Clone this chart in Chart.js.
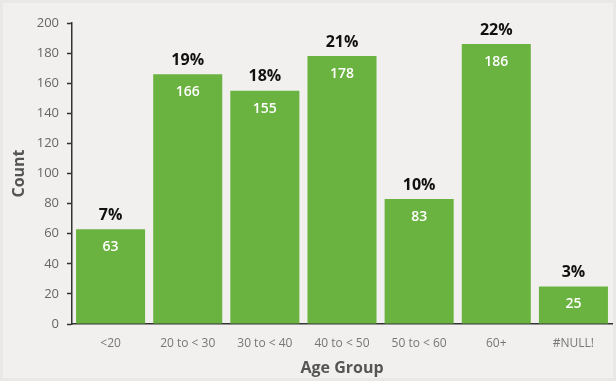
<!DOCTYPE html>
<html>
<head>
<meta charset="utf-8">
<script src="https://cdn.jsdelivr.net/npm/chart.js@4/dist/chart.umd.min.js"></script>
<style>
    html, body { margin: 0; padding: 0; background: #e9e8e6; }
    #wrap {
        position: absolute; left: 3px; top: 3px; width: 610px; height: 375px;
        background: #f1f0ee;
    }
    #box { position: absolute; left: -3px; top: -3px; width: 616px; height: 381px; }
</style>
</head>
<body>
<div id="wrap"><div id="box"><canvas id="ageChart" width="616" height="381"></canvas></div></div>
<script>
// Data
const ageGroups = ['<20', '20 to < 30', '30 to < 40', '40 to < 50', '50 to < 60', '60+', '#NULL!'];
const counts = [63, 166, 155, 178, 83, 186, 25];
const percentLabels = ['7%', '19%', '18%', '21%', '10%', '22%', '3%'];
const yTicks = [0, 20, 40, 60, 80, 100, 120, 140, 160, 180, 200];

const barGreen = '#6ab340';
const fontFamily = "'Open Sans', 'DejaVu Sans', sans-serif";

// Draws the count inside each bar and the share above it
const barLabels = {
    id: 'barLabels',
    afterDatasetsDraw(chart) {
        const ctx = chart.ctx;
        const meta = chart.getDatasetMeta(0);
        ctx.save();
        ctx.textAlign = 'center';
        ctx.textBaseline = 'middle';
        meta.data.forEach((bar, i) => {
            ctx.fillStyle = '#ffffff';
            ctx.font = `600 14px ${fontFamily}`;
            ctx.fillText(String(counts[i]), bar.x, bar.y + 18);
            ctx.fillStyle = '#111111';
            ctx.font = `bold 16px ${fontFamily}`;
            ctx.fillText(percentLabels[i], bar.x, bar.y - 14);
        });
        ctx.restore();
    }
};

new Chart(document.getElementById('ageChart').getContext('2d'), {
    type: 'bar',
    data: {
        labels: ageGroups,
        datasets: [{
            data: counts,
            backgroundColor: barGreen,
            borderWidth: 0,
            barPercentage: 0.895,
            categoryPercentage: 1
        }]
    },
    options: {
        responsive: false,
        animation: false,
        layout: { padding: { top: 23, right: 4, left: 0, bottom: 0 } },
        plugins: {
            legend: { display: false },
            tooltip: { enabled: false }
        },
        scales: {
            x: {
                grid: { display: false, drawTicks: false },
                border: { color: '#333333', width: 1.5 },
                ticks: { color: '#777777', font: { family: fontFamily, size: 12 }, padding: 12, maxRotation: 0 },
                title: {
                    display: true, text: 'Age Group', color: '#555555',
                    font: { family: fontFamily, size: 16, weight: 'bold' },
                    padding: { top: 0, bottom: 3 }
                },
                afterFit: s => { s.height = 57; }
            },
            y: {
                min: 0,
                max: 200,
                afterBuildTicks: s => { s.ticks = yTicks.map(v => ({ value: v })); },
                grid: { drawOnChartArea: false, tickLength: 5, color: '#333333', tickWidth: 1.5 },
                border: { color: '#333333', width: 1.5 },
                ticks: { color: '#666666', font: { family: fontFamily, size: 13 }, padding: 8 },
                title: {
                    display: true, text: 'Count', color: '#555555',
                    font: { family: fontFamily, size: 16, weight: 'bold' },
                    padding: { top: 10, bottom: 0 }
                },
                afterFit: s => { s.width = 72; }
            }
        }
    },
    plugins: [barLabels]
});
</script>
</body>
</html>
